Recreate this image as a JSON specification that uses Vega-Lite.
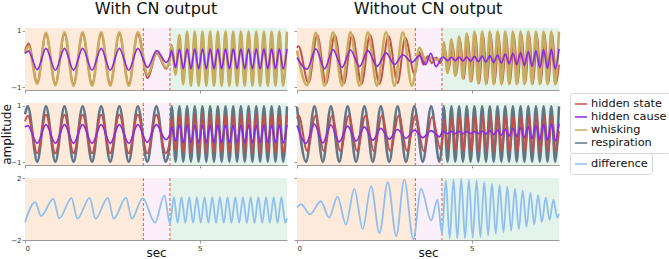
{
"$schema":"https://vega.github.io/schema/vega-lite/v6.json",
"padding":{"left":0,"top":1,"right":0,"bottom":0},
"background":"white",
"config":{
 "font":"DejaVu Sans",
 "view":{"stroke":null},
 "axis":{"grid":false,"domainColor":"#9a9a9a","tickColor":"#9a9a9a","tickSize":3,"labelFontSize":7,"labelColor":"#333","labelPadding":1,"titleFontSize":12,"titleFontWeight":"normal","titleColor":"#111","labelFont":"DejaVu Sans","titleFont":"DejaVu Sans"},
 "title":{"fontSize":16,"font":"DejaVu Sans","fontWeight":"normal","color":"#111","offset":9,"baseline":"bottom","anchor":"middle","frame":"group"},
 "line":{"interpolate":"monotone","clip":true}
},
"datasets":{
 "bg":[{"a":0,"b":3.39,"z":"pre"},{"a":3.39,"b":4.15,"z":"mid"},{"a":4.15,"b":7.5,"z":"post"}],
 "cut":[{"t":3.39},{"t":4.15}],
 "LT":[
{"t":0,"h":0.3,"c":0.2,"w":0.2},{"t":0.1,"h":0.55,"c":0.28,"w":0.45},{"t":0.35,"h":-0.82,"c":-0.38,"w":-0.88},{"t":0.6,"h":0.88,"c":0.38,"w":0.93},{"t":0.87,"h":-0.88,"c":-0.4,"w":-0.93},{"t":1.13,"h":0.88,"c":0.38,"w":0.95},{"t":1.39,"h":-0.88,"c":-0.4,"w":-0.95},{"t":1.65,"h":0.88,"c":0.38,"w":0.95},{"t":1.92,"h":-0.88,"c":-0.4,"w":-0.95},{"t":2.18,"h":0.88,"c":0.38,"w":0.95},{"t":2.44,"h":-0.88,"c":-0.4,"w":-0.95},{"t":2.7,"h":0.88,"c":0.38,"w":0.95},{"t":2.97,"h":-0.88,"c":-0.4,"w":-0.95},{"t":3.23,"h":0.88,"c":0.38,"w":0.95},
{"t":3.51,"h":-0.68,"c":-0.3,"w":-0.55},{"t":3.77,"h":0.2,"c":0.3,"w":0.25},{"t":4.04,"h":-0.35,"c":-0.12,"w":-0.3},{"t":4.15,"h":0.05,"c":0.1,"w":0},
{"t":4.2,"h":0.5,"c":0.3,"w":0.45},{"t":4.31,"h":-0.5,"c":-0.3,"w":-0.55},{"t":4.42,"h":0.8,"c":0.35,"w":0.85},{"t":4.53,"h":-0.85,"c":-0.35,"w":-0.9},
{"t":4.64,"h":0.9,"c":0.36,"w":0.97},{"t":4.75,"h":-0.88,"c":-0.35,"w":-0.95},{"t":4.86,"h":0.9,"c":0.36,"w":0.97},{"t":4.97,"h":-0.88,"c":-0.35,"w":-0.95},{"t":5.08,"h":0.9,"c":0.36,"w":0.97},{"t":5.19,"h":-0.88,"c":-0.35,"w":-0.95},{"t":5.3,"h":0.9,"c":0.36,"w":0.97},{"t":5.41,"h":-0.88,"c":-0.35,"w":-0.95},{"t":5.52,"h":0.9,"c":0.36,"w":0.97},{"t":5.63,"h":-0.88,"c":-0.35,"w":-0.95},{"t":5.74,"h":0.9,"c":0.36,"w":0.97},{"t":5.85,"h":-0.88,"c":-0.35,"w":-0.95},{"t":5.96,"h":0.9,"c":0.36,"w":0.97},{"t":6.07,"h":-0.88,"c":-0.35,"w":-0.95},{"t":6.18,"h":0.9,"c":0.36,"w":0.97},{"t":6.29,"h":-0.88,"c":-0.35,"w":-0.95},{"t":6.4,"h":0.9,"c":0.36,"w":0.97},{"t":6.51,"h":-0.88,"c":-0.35,"w":-0.95},{"t":6.62,"h":0.9,"c":0.36,"w":0.97},{"t":6.73,"h":-0.88,"c":-0.35,"w":-0.95},{"t":6.84,"h":0.9,"c":0.36,"w":0.97},{"t":6.95,"h":-0.88,"c":-0.35,"w":-0.95},{"t":7.06,"h":0.9,"c":0.36,"w":0.97},{"t":7.17,"h":-0.88,"c":-0.35,"w":-0.95},{"t":7.28,"h":0.9,"c":0.36,"w":0.97},{"t":7.39,"h":-0.88,"c":-0.35,"w":-0.95},{"t":7.5,"h":0.9,"c":0.36,"w":0.97}
 ],
 "LM":[
{"t":0,"h":0.45,"c":0.25,"r":0.7},{"t":0.08,"h":0.65,"c":0.3,"r":0.98},{"t":0.35,"h":-0.68,"c":-0.33,"r":-0.98},{"t":0.6,"h":0.68,"c":0.33,"r":0.98},{"t":0.87,"h":-0.68,"c":-0.33,"r":-0.98},{"t":1.13,"h":0.68,"c":0.33,"r":0.98},{"t":1.39,"h":-0.68,"c":-0.33,"r":-0.98},{"t":1.65,"h":0.68,"c":0.33,"r":0.98},{"t":1.92,"h":-0.68,"c":-0.33,"r":-0.98},{"t":2.18,"h":0.68,"c":0.33,"r":0.98},{"t":2.44,"h":-0.68,"c":-0.33,"r":-0.98},{"t":2.7,"h":0.68,"c":0.33,"r":0.98},{"t":2.97,"h":-0.68,"c":-0.33,"r":-0.98},{"t":3.23,"h":0.68,"c":0.33,"r":0.98},
{"t":3.5,"h":-0.68,"c":-0.3,"r":-0.98},{"t":3.76,"h":0.68,"c":0.33,"r":0.98},{"t":4.03,"h":-0.68,"c":-0.2,"r":-0.98},{"t":4.15,"h":-0.2,"c":0,"r":-0.3},
{"t":4.2,"h":0.6,"c":0.25,"r":0.98},{"t":4.31,"h":-0.6,"c":-0.25,"r":-0.98},
{"t":4.42,"h":0.68,"c":0.32,"r":0.98},{"t":4.53,"h":-0.68,"c":-0.32,"r":-0.98},{"t":4.64,"h":0.68,"c":0.32,"r":0.98},{"t":4.75,"h":-0.68,"c":-0.32,"r":-0.98},{"t":4.86,"h":0.68,"c":0.32,"r":0.98},{"t":4.97,"h":-0.68,"c":-0.32,"r":-0.98},{"t":5.08,"h":0.68,"c":0.32,"r":0.98},{"t":5.19,"h":-0.68,"c":-0.32,"r":-0.98},{"t":5.3,"h":0.68,"c":0.32,"r":0.98},{"t":5.41,"h":-0.68,"c":-0.32,"r":-0.98},{"t":5.52,"h":0.68,"c":0.32,"r":0.98},{"t":5.63,"h":-0.68,"c":-0.32,"r":-0.98},{"t":5.74,"h":0.68,"c":0.32,"r":0.98},{"t":5.85,"h":-0.68,"c":-0.32,"r":-0.98},{"t":5.96,"h":0.68,"c":0.32,"r":0.98},{"t":6.07,"h":-0.68,"c":-0.32,"r":-0.98},{"t":6.18,"h":0.68,"c":0.32,"r":0.98},{"t":6.29,"h":-0.68,"c":-0.32,"r":-0.98},{"t":6.4,"h":0.68,"c":0.32,"r":0.98},{"t":6.51,"h":-0.68,"c":-0.32,"r":-0.98},{"t":6.62,"h":0.68,"c":0.32,"r":0.98},{"t":6.73,"h":-0.68,"c":-0.32,"r":-0.98},{"t":6.84,"h":0.68,"c":0.32,"r":0.98},{"t":6.95,"h":-0.68,"c":-0.32,"r":-0.98},{"t":7.06,"h":0.68,"c":0.32,"r":0.98},{"t":7.17,"h":-0.68,"c":-0.32,"r":-0.98},{"t":7.28,"h":0.68,"c":0.32,"r":0.98},{"t":7.39,"h":-0.68,"c":-0.32,"r":-0.98},{"t":7.5,"h":0.68,"c":0.32,"r":0.98}
 ],
 "LB":[
{"t":0,"d":-0.85},{"t":0.29,"d":0.45},{"t":0.46,"d":-0.45},{"t":0.81,"d":0.65},{"t":0.98,"d":-0.6},{"t":1.33,"d":0.7},{"t":1.5,"d":-0.62},{"t":1.85,"d":0.72},{"t":2.02,"d":-0.62},{"t":2.37,"d":0.72},{"t":2.54,"d":-0.62},{"t":2.89,"d":0.74},{"t":3.06,"d":-0.62},{"t":3.37,"d":0.7},{"t":3.72,"d":-0.88},{"t":3.99,"d":0.88},{"t":4.15,"d":-0.95},
{"t":4.26,"d":0.77},{"t":4.37,"d":-0.9},{"t":4.48,"d":0.77},{"t":4.59,"d":-0.9},{"t":4.7,"d":0.77},{"t":4.81,"d":-0.9},{"t":4.92,"d":0.77},{"t":5.03,"d":-0.9},{"t":5.14,"d":0.77},{"t":5.25,"d":-0.9},{"t":5.36,"d":0.77},{"t":5.47,"d":-0.9},{"t":5.58,"d":0.77},{"t":5.69,"d":-0.9},{"t":5.8,"d":0.77},{"t":5.91,"d":-0.9},{"t":6.02,"d":0.77},{"t":6.13,"d":-0.9},{"t":6.24,"d":0.77},{"t":6.35,"d":-0.9},{"t":6.46,"d":0.77},{"t":6.57,"d":-0.9},{"t":6.68,"d":0.77},{"t":6.79,"d":-0.9},{"t":6.9,"d":0.77},{"t":7.01,"d":-0.9},{"t":7.12,"d":0.77},{"t":7.23,"d":-0.9},{"t":7.34,"d":0.77},{"t":7.45,"d":-0.9},{"t":7.5,"d":-0.6}
 ],
 "RT":[
{"t":0,"w":0.3,"c":0.05},{"t":0.29,"w":-0.93,"c":-0.36},{"t":0.54,"w":0.93,"c":0.36},{"t":0.79,"w":-0.95,"c":-0.35},{"t":1.03,"w":0.95,"c":0.33},{"t":1.29,"w":-0.95,"c":-0.3},{"t":1.53,"w":0.95,"c":0.32},{"t":1.79,"w":-0.95,"c":-0.27},{"t":2.03,"w":0.95,"c":0.3},{"t":2.29,"w":-0.95,"c":-0.26},{"t":2.55,"w":0.95,"c":0.22},{"t":2.79,"w":-0.95,"c":-0.2},{"t":3.03,"w":0.95,"c":0.15},{"t":3.29,"w":-0.95,"c":-0.12},
{"t":3.51,"w":0.4,"c":0.12},{"t":3.68,"w":-0.05,"c":-0.2},{"t":3.83,"w":0.05,"c":0.2},{"t":3.98,"w":-0.03,"c":-0.27},{"t":4.15,"w":0,"c":0.05},
{"t":4.2,"w":0.6,"c":0.06},{"t":4.31,"w":-0.5,"c":-0.06},{"t":4.42,"w":0.7,"c":0.06},{"t":4.53,"w":-0.6,"c":-0.06},{"t":4.64,"w":0.8,"c":0.07},{"t":4.75,"w":-0.7,"c":-0.07},{"t":4.86,"w":0.9,"c":0.08},{"t":4.97,"w":-0.8,"c":-0.08},{"t":5.08,"w":0.97,"c":0.09},{"t":5.19,"w":-0.87,"c":-0.09},{"t":5.3,"w":0.97,"c":0.1},{"t":5.41,"w":-0.9,"c":-0.1},{"t":5.52,"w":0.97,"c":0.12},{"t":5.63,"w":-0.9,"c":-0.12},{"t":5.74,"w":0.97,"c":0.14},{"t":5.85,"w":-0.9,"c":-0.14},{"t":5.96,"w":0.97,"c":0.17},{"t":6.07,"w":-0.9,"c":-0.17},{"t":6.18,"w":0.97,"c":0.2},{"t":6.29,"w":-0.9,"c":-0.2},{"t":6.4,"w":0.97,"c":0.23},{"t":6.51,"w":-0.9,"c":-0.23},{"t":6.62,"w":0.97,"c":0.26},{"t":6.73,"w":-0.9,"c":-0.26},{"t":6.84,"w":0.97,"c":0.3},{"t":6.95,"w":-0.9,"c":-0.3},{"t":7.06,"w":0.97,"c":0.33},{"t":7.17,"w":-0.9,"c":-0.33},{"t":7.28,"w":0.97,"c":0.35},{"t":7.39,"w":-0.9,"c":-0.35},{"t":7.5,"w":0.97,"c":0.36},
{"t":0,"h":0.4},{"t":0.04,"h":0.45},{"t":0.33,"h":-0.85},{"t":0.58,"h":0.85},{"t":0.83,"h":-0.88},{"t":1.08,"h":0.85},{"t":1.34,"h":-0.88},{"t":1.58,"h":0.85},{"t":1.85,"h":-0.88},{"t":2.09,"h":0.85},{"t":2.36,"h":-0.88},{"t":2.62,"h":0.82},{"t":2.88,"h":-0.85},{"t":3.1,"h":0.75},{"t":3.37,"h":-0.55},{"t":3.5,"h":0.25},{"t":3.62,"h":-0.2},{"t":3.74,"h":0.1},{"t":3.86,"h":-0.15},{"t":3.98,"h":0.05},{"t":4.1,"h":-0.15},{"t":4.15,"h":0},{"t":4.23,"h":0.35},{"t":4.34,"h":-0.4},{"t":4.45,"h":0.55},{"t":4.56,"h":-0.55},{"t":4.67,"h":0.7},{"t":4.78,"h":-0.7},{"t":4.89,"h":0.8},{"t":5.0,"h":-0.8},{"t":5.11,"h":0.88},{"t":5.22,"h":-0.85},{"t":5.33,"h":0.88},{"t":5.44,"h":-0.85},{"t":5.55,"h":0.88},{"t":5.66,"h":-0.85},{"t":5.77,"h":0.88},{"t":5.88,"h":-0.85},{"t":5.99,"h":0.88},{"t":6.1,"h":-0.85},{"t":6.21,"h":0.88},{"t":6.32,"h":-0.85},{"t":6.43,"h":0.88},{"t":6.54,"h":-0.85},{"t":6.65,"h":0.88},{"t":6.76,"h":-0.85},{"t":6.87,"h":0.88},{"t":6.98,"h":-0.85},{"t":7.09,"h":0.88},{"t":7.2,"h":-0.85},{"t":7.31,"h":0.88},{"t":7.42,"h":-0.85},{"t":7.5,"h":-0.2}
 ],
 "RM":[
{"t":0,"r":0.96,"c":0.3},{"t":0.26,"r":-0.98,"c":-0.33},{"t":0.5,"r":0.98,"c":0.35},{"t":0.74,"r":-0.98,"c":-0.32},{"t":0.97,"r":0.98,"c":0.32},{"t":1.21,"r":-0.98,"c":-0.28},{"t":1.45,"r":0.98,"c":0.28},{"t":1.69,"r":-0.98,"c":-0.25},{"t":1.93,"r":0.98,"c":0.25},{"t":2.17,"r":-0.98,"c":-0.22},{"t":2.4,"r":0.98,"c":0.2},{"t":2.64,"r":-0.98,"c":-0.18},{"t":2.88,"r":0.98,"c":0.16},{"t":3.12,"r":-0.98,"c":-0.15},{"t":3.36,"r":0.98,"c":0.14},{"t":3.6,"r":-0.98,"c":-0.13},{"t":3.84,"r":0.98,"c":0.12},{"t":4.08,"r":-0.98,"c":-0.1},{"t":4.15,"r":-0.3,"c":0.05},
{"t":4.2,"r":0.98,"c":0.09},{"t":4.31,"r":-0.98,"c":0.01},{"t":4.42,"r":0.98,"c":0.09},{"t":4.53,"r":-0.98,"c":0.01},{"t":4.64,"r":0.98,"c":0.09},{"t":4.75,"r":-0.98,"c":0.01},{"t":4.86,"r":0.98,"c":0.09},{"t":4.97,"r":-0.98,"c":0.01},{"t":5.08,"r":0.98,"c":0.09},{"t":5.19,"r":-0.98,"c":0.01},{"t":5.3,"r":0.98,"c":0.1},{"t":5.41,"r":-0.98,"c":0},{"t":5.52,"r":0.98,"c":0.12},{"t":5.63,"r":-0.98,"c":-0.02},{"t":5.74,"r":0.98,"c":0.14},{"t":5.85,"r":-0.98,"c":-0.04},{"t":5.96,"r":0.98,"c":0.17},{"t":6.07,"r":-0.98,"c":-0.07},{"t":6.18,"r":0.98,"c":0.2},{"t":6.29,"r":-0.98,"c":-0.1},{"t":6.4,"r":0.98,"c":0.23},{"t":6.51,"r":-0.98,"c":-0.13},{"t":6.62,"r":0.98,"c":0.26},{"t":6.73,"r":-0.98,"c":-0.16},{"t":6.84,"r":0.98,"c":0.3},{"t":6.95,"r":-0.98,"c":-0.2},{"t":7.06,"r":0.98,"c":0.33},{"t":7.17,"r":-0.98,"c":-0.22},{"t":7.28,"r":0.98,"c":0.36},{"t":7.39,"r":-0.98,"c":-0.25},{"t":7.5,"r":0.98,"c":0.37},
{"t":0,"h":0.55},{"t":0.05,"h":0.65},{"t":0.29,"h":-0.6},{"t":0.53,"h":0.65},{"t":0.77,"h":-0.6},{"t":1.0,"h":0.65},{"t":1.24,"h":-0.6},{"t":1.48,"h":0.65},{"t":1.72,"h":-0.6},{"t":1.96,"h":0.65},{"t":2.2,"h":-0.6},{"t":2.43,"h":0.65},{"t":2.67,"h":-0.6},{"t":2.91,"h":0.65},{"t":3.15,"h":-0.6},{"t":3.39,"h":0.65},{"t":3.63,"h":-0.6},{"t":3.87,"h":0.62},{"t":4.11,"h":-0.55},{"t":4.15,"h":-0.3},{"t":4.22,"h":0.5},{"t":4.33,"h":-0.55},{"t":4.44,"h":0.6},{"t":4.55,"h":-0.6},{"t":4.66,"h":0.65},{"t":4.77,"h":-0.62},{"t":4.88,"h":0.65},{"t":4.99,"h":-0.62},{"t":5.1,"h":0.65},{"t":5.21,"h":-0.62},{"t":5.32,"h":0.65},{"t":5.43,"h":-0.62},{"t":5.54,"h":0.65},{"t":5.65,"h":-0.62},{"t":5.76,"h":0.65},{"t":5.87,"h":-0.62},{"t":5.98,"h":0.65},{"t":6.09,"h":-0.62},{"t":6.2,"h":0.65},{"t":6.31,"h":-0.62},{"t":6.42,"h":0.65},{"t":6.53,"h":-0.62},{"t":6.64,"h":0.65},{"t":6.75,"h":-0.62},{"t":6.86,"h":0.65},{"t":6.97,"h":-0.62},{"t":7.08,"h":0.65},{"t":7.19,"h":-0.62},{"t":7.3,"h":0.65},{"t":7.41,"h":-0.62},{"t":7.5,"h":0.1}
 ],
 "RB":[
{"t":0,"d":0.1},{"t":0.12,"d":0.3},{"t":0.37,"d":-0.35},{"t":0.68,"d":0.5},{"t":0.92,"d":-0.55},{"t":1.16,"d":0.8},{"t":1.4,"d":-1.0},{"t":1.64,"d":1.3},{"t":1.88,"d":-1.3},{"t":2.12,"d":1.48},{"t":2.36,"d":-1.55},{"t":2.6,"d":1.74},{"t":2.84,"d":-1.75},{"t":3.07,"d":1.9},{"t":3.33,"d":-1.95},{"t":3.55,"d":1.3},{"t":3.84,"d":-0.73},{"t":4.02,"d":0.6},{"t":4.15,"d":-1.6},
{"t":4.26,"d":1.85},{"t":4.37,"d":-1.9},{"t":4.48,"d":1.9},{"t":4.59,"d":-1.9},{"t":4.7,"d":1.95},{"t":4.81,"d":-1.9},{"t":4.92,"d":1.9},{"t":5.03,"d":-1.85},{"t":5.14,"d":1.85},{"t":5.25,"d":-1.8},{"t":5.36,"d":1.75},{"t":5.47,"d":-1.7},{"t":5.58,"d":1.65},{"t":5.69,"d":-1.6},{"t":5.8,"d":1.55},{"t":5.91,"d":-1.5},{"t":6.02,"d":1.45},{"t":6.13,"d":-1.4},{"t":6.24,"d":1.3},{"t":6.35,"d":-1.3},{"t":6.46,"d":1.2},{"t":6.57,"d":-1.15},{"t":6.68,"d":1.05},{"t":6.79,"d":-1.0},{"t":6.9,"d":0.9},{"t":7.01,"d":-0.85},{"t":7.12,"d":0.75},{"t":7.23,"d":-0.7},{"t":7.34,"d":0.6},{"t":7.45,"d":-0.55},{"t":7.5,"d":-0.3}
 ]
},
"bounds":"flush",
"columns":2,
"spacing":{"row":13,"column":10},
"concat":[
  {"title":{"text":"With CN output"},"width":262,"height":62,"layer":[
   {"data":{"name":"bg"},"mark":"rect","encoding":{"x":{"field":"a","type":"quantitative","scale":{"domain":[0,7.5],"nice":false,"zero":false},"axis":{"values":[0,5],"labels":false,"title":null}},"x2":{"field":"b"},"fill":{"field":"z","type":"nominal","scale":{"domain":["pre","mid","post"],"range":["#fdeadb","#fbeffa","#e4f4ea"]},"legend":null}}},
   {"data":{"name":"cut"},"mark":{"type":"rule","color":"#e8736b","strokeDash":[3,2],"strokeWidth":1.2},"encoding":{"x":{"field":"t","type":"quantitative"}}},
   {"data":{"name":"LT"},"transform":[{"filter":{"field":"h","valid":true}}],"mark":{"type":"line","strokeWidth":2},"encoding":{"x":{"field":"t","type":"quantitative"},"y":{"field":"h","type":"quantitative","scale":{"domain":[-1.1,1.1],"nice":false,"zero":false},"axis":{"values":[-1,1],"title":null}},"color":{"datum":"hidden state","type":"nominal","scale":{"domain":["hidden state","hidden cause","whisking","respiration"],"range":["#c4504a","#8c2be0","#c9ad5f","#5f7789"]},"legend":{"orient":"none","legendX":545,"legendY":65,"title":null,"symbolType":"stroke","symbolStrokeWidth":1.5,"symbolSize":150,"labelFontSize":11.3,"labelFont":"DejaVu Sans","labelColor":"#111","strokeColor":"#d6d6d6","fillColor":"white","cornerRadius":3,"padding":4,"rowPadding":0,"labelOffset":3}}}},
   {"data":{"name":"LT"},"transform":[{"filter":{"field":"w","valid":true}}],"mark":{"type":"line","strokeWidth":2.6},"encoding":{"x":{"field":"t","type":"quantitative"},"y":{"field":"w","type":"quantitative"},"color":{"datum":"whisking","type":"nominal"}}},
   {"data":{"name":"LT"},"transform":[{"filter":{"field":"c","valid":true}}],"mark":{"type":"line","strokeWidth":1.7},"encoding":{"x":{"field":"t","type":"quantitative"},"y":{"field":"c","type":"quantitative"},"color":{"datum":"hidden cause","type":"nominal"}}}
  ]},
  {"title":{"text":"Without CN output"},"width":262,"height":62,"layer":[
   {"data":{"name":"bg"},"mark":"rect","encoding":{"x":{"field":"a","type":"quantitative","scale":{"domain":[0,7.5],"nice":false,"zero":false},"axis":{"values":[0,5],"labels":false,"title":null}},"x2":{"field":"b"},"fill":{"field":"z","type":"nominal","legend":null}}},
   {"data":{"name":"cut"},"mark":{"type":"rule","color":"#e8736b","strokeDash":[3,2],"strokeWidth":1.2},"encoding":{"x":{"field":"t","type":"quantitative"}}},
   {"data":{"name":"RT"},"transform":[{"filter":{"field":"h","valid":true}}],"mark":{"type":"line","strokeWidth":2},"encoding":{"x":{"field":"t","type":"quantitative"},"y":{"field":"h","type":"quantitative","scale":{"domain":[-1.1,1.1],"nice":false,"zero":false},"axis":{"values":[-1,1],"title":null,"labels":false}},"color":{"datum":"hidden state","type":"nominal"}}},
   {"data":{"name":"RT"},"transform":[{"filter":{"field":"w","valid":true}}],"mark":{"type":"line","strokeWidth":2.6},"encoding":{"x":{"field":"t","type":"quantitative"},"y":{"field":"w","type":"quantitative"},"color":{"datum":"whisking","type":"nominal"}}},
   {"data":{"name":"RT"},"transform":[{"filter":{"field":"c","valid":true}}],"mark":{"type":"line","strokeWidth":1.7},"encoding":{"x":{"field":"t","type":"quantitative"},"y":{"field":"c","type":"quantitative"},"color":{"datum":"hidden cause","type":"nominal"}}}
  ]},
  {"width":262,"height":62,"layer":[
   {"data":{"name":"bg"},"mark":"rect","encoding":{"x":{"field":"a","type":"quantitative","scale":{"domain":[0,7.5],"nice":false,"zero":false},"axis":{"values":[0,5],"labels":false,"title":null}},"x2":{"field":"b"},"fill":{"field":"z","type":"nominal","legend":null}}},
   {"data":{"name":"cut"},"mark":{"type":"rule","color":"#e8736b","strokeDash":[3,2],"strokeWidth":1.2},"encoding":{"x":{"field":"t","type":"quantitative"}}},
   {"data":{"name":"LM"},"transform":[{"filter":{"field":"r","valid":true}}],"mark":{"type":"line","strokeWidth":2.6},"encoding":{"x":{"field":"t","type":"quantitative"},"y":{"field":"r","type":"quantitative","scale":{"domain":[-1.1,1.1],"nice":false,"zero":false},"axis":{"values":[-1,1],"title":"amplitude","titleX":-11.5,"titleY":31,"titleBaseline":"bottom","titleAngle":270,"titleAlign":"center"}},"color":{"datum":"respiration","type":"nominal"}}},
   {"data":{"name":"LM"},"transform":[{"filter":{"field":"h","valid":true}}],"mark":{"type":"line","strokeWidth":2},"encoding":{"x":{"field":"t","type":"quantitative"},"y":{"field":"h","type":"quantitative"},"color":{"datum":"hidden state","type":"nominal"}}},
   {"data":{"name":"LM"},"transform":[{"filter":{"field":"c","valid":true}}],"mark":{"type":"line","strokeWidth":1.7},"encoding":{"x":{"field":"t","type":"quantitative"},"y":{"field":"c","type":"quantitative"},"color":{"datum":"hidden cause","type":"nominal"}}}
  ]},
  {"width":262,"height":62,"layer":[
   {"data":{"name":"bg"},"mark":"rect","encoding":{"x":{"field":"a","type":"quantitative","scale":{"domain":[0,7.5],"nice":false,"zero":false},"axis":{"values":[0,5],"labels":false,"title":null}},"x2":{"field":"b"},"fill":{"field":"z","type":"nominal","legend":null}}},
   {"data":{"name":"cut"},"mark":{"type":"rule","color":"#e8736b","strokeDash":[3,2],"strokeWidth":1.2},"encoding":{"x":{"field":"t","type":"quantitative"}}},
   {"data":{"name":"RM"},"transform":[{"filter":{"field":"r","valid":true}}],"mark":{"type":"line","strokeWidth":2.6},"encoding":{"x":{"field":"t","type":"quantitative"},"y":{"field":"r","type":"quantitative","scale":{"domain":[-1.1,1.1],"nice":false,"zero":false},"axis":{"values":[-1,1],"title":null,"labels":false}},"color":{"datum":"respiration","type":"nominal"}}},
   {"data":{"name":"RM"},"transform":[{"filter":{"field":"h","valid":true}}],"mark":{"type":"line","strokeWidth":2},"encoding":{"x":{"field":"t","type":"quantitative"},"y":{"field":"h","type":"quantitative"},"color":{"datum":"hidden state","type":"nominal"}}},
   {"data":{"name":"RM"},"transform":[{"filter":{"field":"c","valid":true}}],"mark":{"type":"line","strokeWidth":1.7},"encoding":{"x":{"field":"t","type":"quantitative"},"y":{"field":"c","type":"quantitative"},"color":{"datum":"hidden cause","type":"nominal"}}}
  ]},
  {"width":262,"height":62,"layer":[
   {"data":{"name":"bg"},"mark":"rect","encoding":{"x":{"field":"a","type":"quantitative","scale":{"domain":[0,7.5],"nice":false,"zero":false},"axis":{"values":[0,5],"title":"sec","titleY":16,"titleBaseline":"alphabetic"}},"x2":{"field":"b"},"fill":{"field":"z","type":"nominal","legend":null}}},
   {"data":{"name":"cut"},"mark":{"type":"rule","color":"#e8736b","strokeDash":[3,2],"strokeWidth":1.2},"encoding":{"x":{"field":"t","type":"quantitative"}}},
   {"data":{"name":"LB"},"mark":{"type":"line","strokeWidth":1.8},"encoding":{"x":{"field":"t","type":"quantitative"},"y":{"field":"d","type":"quantitative","scale":{"domain":[-2,2],"nice":false},"axis":{"values":[-2,2],"title":null}},"stroke":{"datum":"difference","type":"nominal","scale":{"domain":["difference"],"range":["#8ebff0"]},"legend":{"orient":"none","legendX":545,"legendY":125,"title":null,"symbolType":"stroke","symbolStrokeWidth":1.5,"symbolSize":150,"labelFontSize":11.3,"labelFont":"DejaVu Sans","labelColor":"#111","strokeColor":"#d6d6d6","fillColor":"white","cornerRadius":3,"padding":4,"rowPadding":0,"labelOffset":3}}}}
  ]},
  {"width":262,"height":62,"layer":[
   {"data":{"name":"bg"},"mark":"rect","encoding":{"x":{"field":"a","type":"quantitative","scale":{"domain":[0,7.5],"nice":false,"zero":false},"axis":{"values":[0,5],"title":"sec","titleY":16,"titleBaseline":"alphabetic"}},"x2":{"field":"b"},"fill":{"field":"z","type":"nominal","legend":null}}},
   {"data":{"name":"cut"},"mark":{"type":"rule","color":"#e8736b","strokeDash":[3,2],"strokeWidth":1.2},"encoding":{"x":{"field":"t","type":"quantitative"}}},
   {"data":{"name":"RB"},"mark":{"type":"line","strokeWidth":1.8},"encoding":{"x":{"field":"t","type":"quantitative"},"y":{"field":"d","type":"quantitative","scale":{"domain":[-2,2],"nice":false},"axis":{"values":[-2,2],"title":null,"labels":false}},"stroke":{"datum":"difference","type":"nominal"}}}
  ]}
]
}
